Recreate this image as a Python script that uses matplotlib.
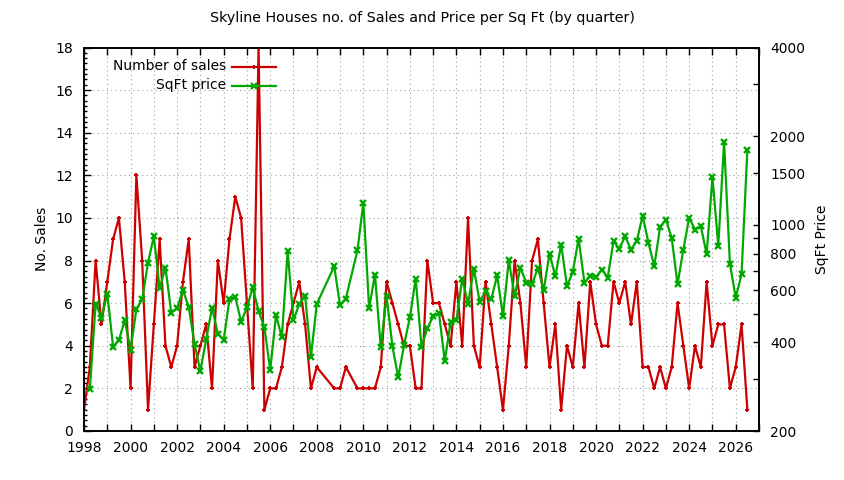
import numpy as np
import matplotlib
matplotlib.use("Agg")
import matplotlib.pyplot as plt
from matplotlib.lines import Line2D
from matplotlib.ticker import FixedLocator, MultipleLocator, FixedFormatter

# ---------------- data ----------------
years = list(range(1998, 2027))
# quarterly sales counts per year (None = no data for that quarter)
sales_by_year = {
    1998: [1, 3, 8, 5], 1999: [7, 9, 10, 7], 2000: [2, 12, 8, 1], 2001: [5, 9, 4, 3],
    2002: [4, 7, 9, 3], 2003: [4, 5, 2, 8], 2004: [6, 9, 11, 10], 2005: [6, 2, 18, 1],
    2006: [2, 2, 3, 5], 2007: [6, 7, 5, 2], 2008: [3, None, None, 2], 2009: [2, 3, None, 2],
    2010: [2, 2, 2, 3], 2011: [7, 6, 5, 4], 2012: [4, 2, 2, 8], 2013: [6, 6, 5, 4],
    2014: [7, 4, 10, 4], 2015: [3, 7, 5, 3], 2016: [1, 4, 8, 6], 2017: [3, 8, 9, 6],
    2018: [3, 5, 1, 4], 2019: [3, 6, 3, 7], 2020: [5, 4, 4, 7], 2021: [6, 7, 5, 7],
    2022: [3, 3, 2, 3], 2023: [2, 3, 6, 4], 2024: [2, 4, 3, 7], 2025: [4, 5, 5, 2],
    2026: [3, 5, 1],
}
# quarterly price per sq ft (nan = first quarter has no price)
price_by_year = {
    1998: [np.nan, 277, 541, 484], 1999: [585, 386, 407, 475], 2000: [378, 517, 559, 744],
    2001: [915, 609, 717, 503], 2002: [523, 601, 527, 394], 2003: [319, 410, 523, 428],
    2004: [407, 560, 570, 469], 2005: [525, 614, 510, 450], 2006: [322, 494, 416, 813],
    2007: [475, 540, 575, 357], 2008: [539, None, None, 724], 2009: [534, 563, None, 821],
    2010: [1187, 521, 679, 384], 2011: [573, 388, 304, 391], 2012: [486, 658, 386, 446],
    2013: [490, 503, 345, 469], 2014: [475, 658, 541, 711], 2015: [548, 596, 560, 675],
    2016: [490, 759, 573, 717], 2017: [637, 629, 715, 601], 2018: [800, 670, 858, 620],
    2019: [693, 899, 636, 672], 2020: [666, 706, 663, 880], 2021: [832, 915, 825, 883],
    2022: [1075, 871, 724, 984], 2023: [1043, 904, 629, 825], 2024: [1059, 965, 992, 795],
    2025: [1454, 849, 1910, 740], 2026: [566, 681, 1800],
}

x_major_ticks = list(range(1998, 2027, 2))
y2_ticks = [200, 300, 400, 500, 600, 700, 800, 900, 1000, 1500, 2000, 3000, 4000]
y2_labels = {200: "200", 400: "400", 600: "600", 800: "800", 1000: "1000",
             1500: "1500", 2000: "2000", 4000: "4000"}

title = "Skyline Houses no. of Sales and Price per Sq Ft (by quarter)"
label_sales = "Number of sales"
label_price = "SqFt price"

# ---------------- build series ----------------
xs, sales, price = [], [], []
for y in years:
    for q, s in enumerate(sales_by_year[y]):
        if s is None:
            continue
        xs.append(y + q * 0.25)
        sales.append(s)
        price.append(price_by_year[y][q])
xs = np.array(xs, float)
sales = np.array(sales, float)
price = np.array(price, float)

RED = "#cc0000"
GREEN = "#00a800"
plt.rcParams["font.family"] = ["DejaVu Sans"]
FS = 10

fig = plt.figure(figsize=(8.44, 4.8), dpi=100)
ax = fig.add_axes([84 / 844, 49 / 480, 675 / 844, 383.5 / 480])
ax2 = ax.twinx()

RKW = dict(color=RED, lw=1.6, marker="+", ms=3, mew=1.4)
GKW = dict(color=GREEN, lw=1.6, marker="x", ms=3.8, mew=1.7)
ax.plot(xs, sales, zorder=3, **RKW)
ax2.plot(xs, price, zorder=3, **GKW)

ax.set_xlim(1998, 2027)
ax.set_ylim(0, 18)
ax2.set_yscale("log")
ax2.set_ylim(200, 4000)

ax.xaxis.set_major_locator(FixedLocator(x_major_ticks))
ax.xaxis.set_minor_locator(MultipleLocator(1))
ax.yaxis.set_major_locator(MultipleLocator(2))
ax.yaxis.set_minor_locator(MultipleLocator(0.25))

ax2.yaxis.set_major_locator(FixedLocator(y2_ticks))
ax2.yaxis.set_minor_locator(FixedLocator([]))
ax2.yaxis.set_major_formatter(FixedFormatter([y2_labels.get(t, "") for t in y2_ticks]))

ax.tick_params(axis="x", which="both", direction="in", top=True, labelsize=FS, pad=7)
ax.tick_params(axis="x", which="major", length=5, width=1)
ax.tick_params(axis="x", which="minor", length=5, width=1)
ax.tick_params(axis="y", which="major", direction="in", length=5, width=1, labelsize=FS, pad=8, right=False)
ax.tick_params(axis="y", which="minor", direction="in", length=2.5, width=1, right=False)
ax2.tick_params(axis="y", which="major", direction="in", length=4, width=1, labelsize=FS, pad=8)

gridkw = dict(color="#a0a0a0", linestyle=(0, (1, 3)), linewidth=0.8)
ax.grid(True, axis="x", which="both", **gridkw)
ax.grid(True, axis="y", which="major", **gridkw)
ax.set_axisbelow(True)

for a in (ax, ax2):
    for sp in a.spines.values():
        sp.set_linewidth(1.2)
        sp.set_color("black")

ax.set_ylabel("No. Sales", fontsize=FS)
ax.yaxis.set_label_coords((49 - 84) / 675, 0.5)
ax2.set_ylabel("SqFt Price", fontsize=FS)
ax2.yaxis.set_label_coords((815 - 84) / 675, 0.5)
fig.suptitle(title, fontsize=10.3, y=1 - 18 / 480, va="center")

# gnuplot-style key: right-aligned text, sample to the right
tx = (226 - 84) / 675
for i, (lab, kw) in enumerate([(label_sales, RKW), (label_price, GKW)]):
    yy = 1 - (19 + 19 * i) / 383.5
    ax2.text(tx, yy, lab, transform=ax2.transAxes, ha="right", va="center", fontsize=FS)
    ax2.add_line(Line2D([(232 - 84) / 675, (276 - 84) / 675], [yy, yy], transform=ax2.transAxes,
                        color=kw["color"], lw=kw["lw"], clip_on=False))
    ax2.add_line(Line2D([(254 - 84) / 675], [yy], transform=ax2.transAxes, color=kw["color"],
                        marker=kw["marker"], ms=kw["ms"], mew=kw["mew"], lw=0, clip_on=False))

fig.savefig("out.png", dpi=100)
